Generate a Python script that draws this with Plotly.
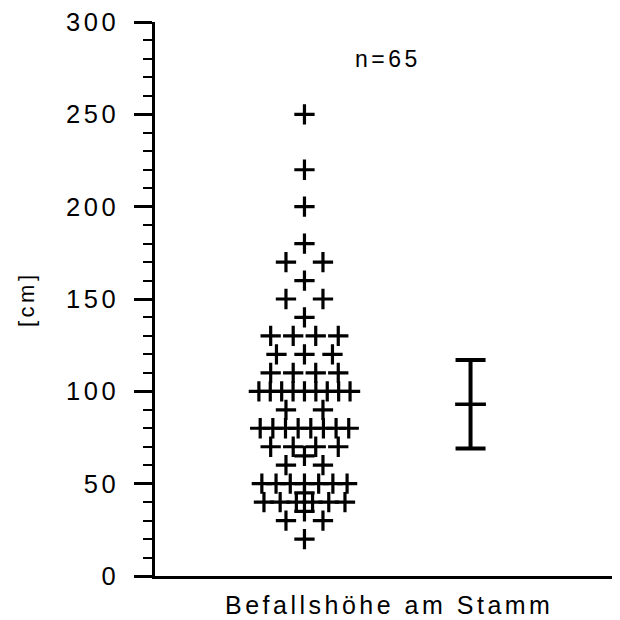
import plotly.graph_objects as go

# ---- data ----
heights = [250, 220, 200, 180, 170, 160, 150, 140, 130, 120, 110, 100,
           90, 80, 70, 65, 60, 50, 45, 40, 35, 30, 20]
counts = [1, 1, 1, 1, 2, 1, 2, 1, 4, 3, 4, 9,
          2, 8, 4, 1, 2, 7, 1, 6, 1, 2, 1]
summary_center = [93]
summary_upper = [117]
summary_lower = [69]
n_label = "n=65"
x_title = "Befallshöhe am Stamm"
y_title = "[cm]"
y_ticks = [0, 50, 100, 150, 200, 250, 300]

# ---- layout parameters (page body has an 8px margin) ----
W, H = 612, 612
ML, MR, MT, MB = 147, 0, 12, 44
x_range = [-0.9, 1.9]
px_per_unit = (W - ML - MR) / (x_range[1] - x_range[0])
plot_h = H - MT - MB

# swarm layout: row spacing shrinks as the row gets fuller
xs, ys = [], []
for h, n in zip(heights, counts):
    spacing = 115.3 / (n + 1.117) / px_per_unit
    for i in range(n):
        xs.append((i - (n - 1) / 2) * spacing)
        ys.append(h)

fig = go.Figure()
fig.add_trace(go.Scatter(
    x=xs, y=ys, mode="markers",
    marker=dict(symbol="cross-thin", size=14.5, color="black",
                line=dict(color="black", width=3.2)),
    showlegend=False, hoverinfo="y"))

fig.add_trace(go.Scatter(
    x=[1], y=summary_center, mode="markers",
    marker=dict(symbol="line-ew", size=22, color="black",
                line=dict(color="black", width=3.5)),
    error_y=dict(type="data", symmetric=False,
                 array=[u - c for u, c in zip(summary_upper, summary_center)],
                 arrayminus=[c - l for l, c in zip(summary_lower, summary_center)],
                 width=15, thickness=4, color="black"),
    showlegend=False))

font_family = "Liberation Sans, Arial, sans-serif"

def py(page_y):
    # page pixel y -> paper coordinate
    return 1 - (page_y - 8 - MT) / plot_h

def px(page_x):
    return (page_x - 8 - ML) / (W - ML - MR)

fig.update_layout(
    width=W, height=H,
    margin=dict(l=ML, r=MR, t=MT, b=MB),
    paper_bgcolor="white", plot_bgcolor="white",
    font=dict(family=font_family, color="black", size=22),
    xaxis=dict(range=x_range, showline=True, linecolor="black", linewidth=2.5,
               showticklabels=False, ticks="", showgrid=False, zeroline=False),
    yaxis=dict(range=[0, 300], showline=True, linecolor="black", linewidth=2.5,
               tickvals=y_ticks, ticks="outside", ticklen=18, tickwidth=2.5,
               tickcolor="black", ticklabelstandoff=10,
               ticklabeloverflow="allow",
               tickfont=dict(size=25.5, family=font_family),
               minor=dict(dtick=10, ticks="outside", ticklen=9, tickwidth=2,
                          tickcolor="black", showgrid=False),
               showgrid=False, zeroline=False),
    annotations=[
        dict(text=n_label, xref="paper", yref="paper", x=px(388),
             y=py(57), showarrow=False,
             font=dict(size=23), xanchor="center", yanchor="middle"),
        dict(text=x_title, xref="paper", yref="paper", x=px(389),
             y=py(605), showarrow=False,
             font=dict(size=25), xanchor="center", yanchor="middle"),
        dict(text=y_title, xref="paper", yref="paper",
             x=px(26), y=py(298), textangle=-90, showarrow=False,
             font=dict(size=22), xanchor="center", yanchor="middle"),
    ],
)

post = ("document.querySelectorAll('.main-svg text').forEach(function(t){"
        "t.style.letterSpacing='3.5px';});")
fig.write_html("out.html", post_script=post)
